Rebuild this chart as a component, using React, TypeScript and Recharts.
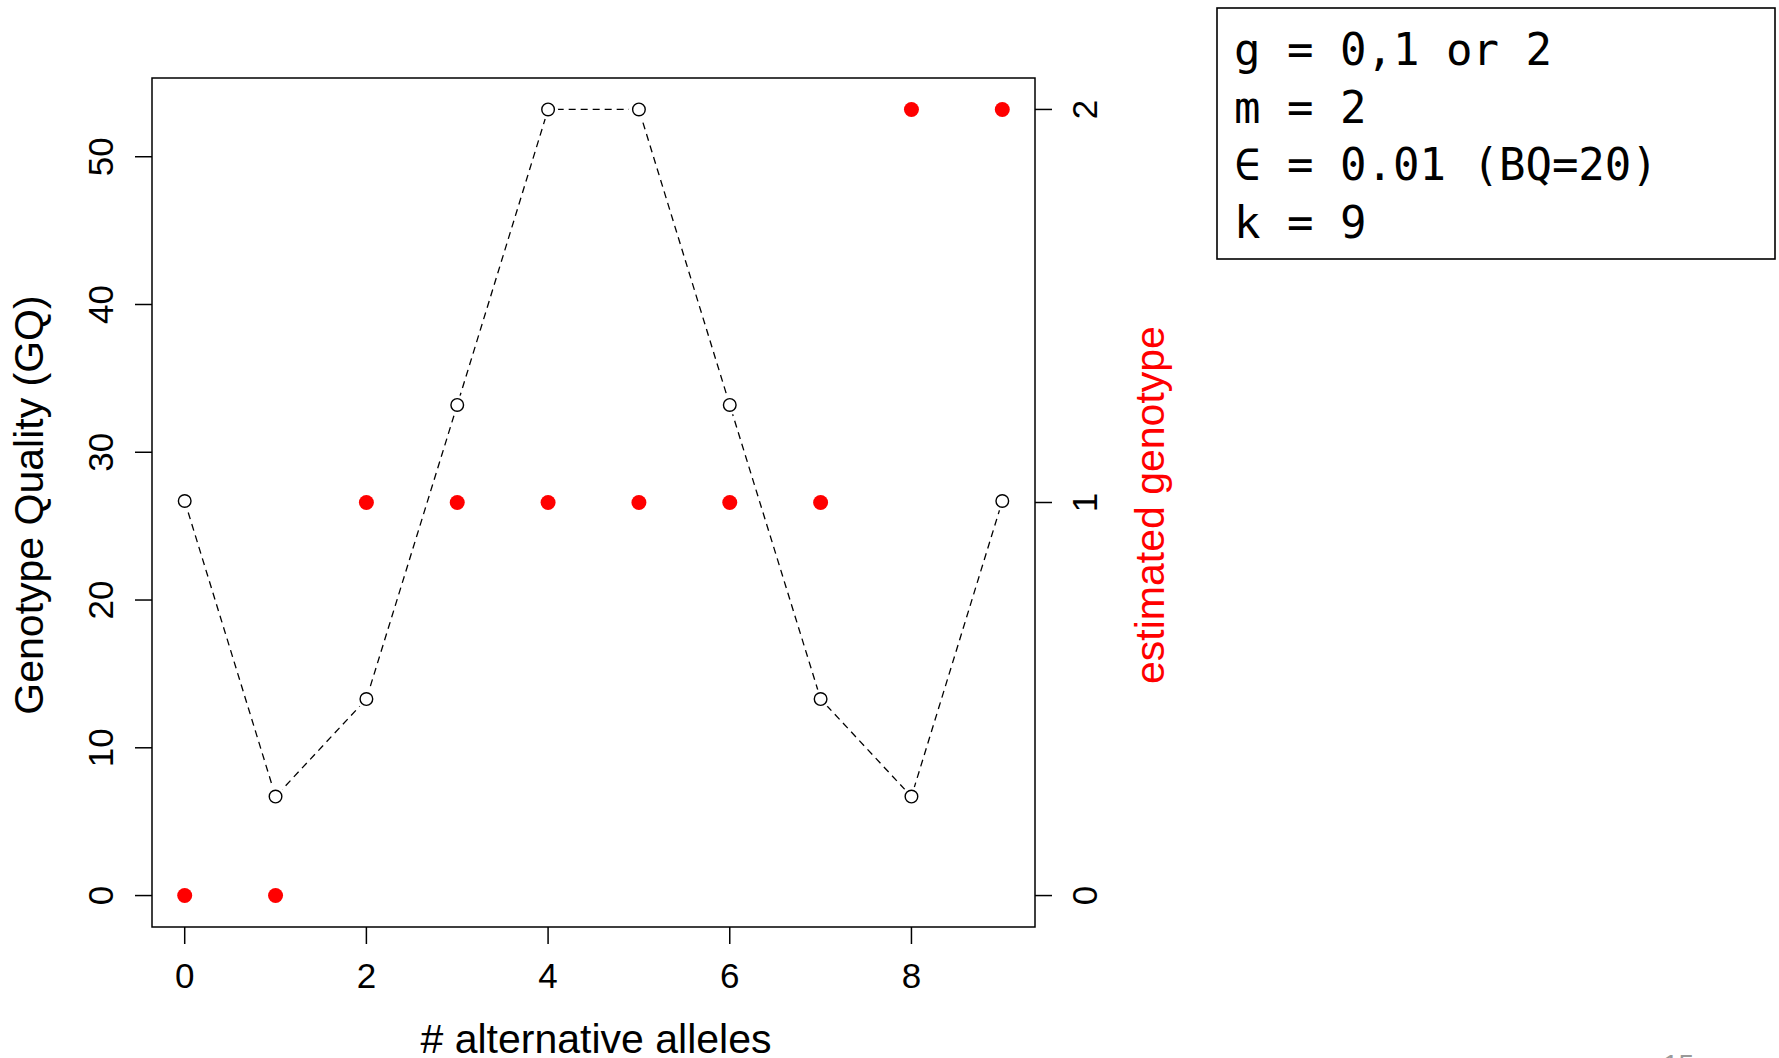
import React from 'react';
import { ComposedChart, Line, XAxis, YAxis, ReferenceArea, Customized } from 'recharts';

// ---- data ----
const alleles = [0, 1, 2, 3, 4, 5, 6, 7, 8, 9];
const gqValues = [26.7, 6.7, 13.3, 33.2, 53.2, 53.2, 33.2, 13.3, 6.7, 26.7];
const genotypeValues = [0, 0, 1, 1, 1, 1, 1, 1, 2, 2];
const xTicks = [0, 2, 4, 6, 8];
const gqTicks = [0, 10, 20, 30, 40, 50];
const gtTicks = [0, 1, 2];
const legendLines = ['g = 0,1 or 2', 'm = 2', '\u2208 = 0.01 (BQ=20)', 'k = 9'];
const xTitle = '# alternative alleles';
const yTitle = 'Genotype Quality (GQ)';
const y2Title = 'estimated genotype';
const pageNumber = '15';

const data = alleles.map((a, i) => ({ x: a, gq: gqValues[i], gt: genotypeValues[i] }));

// R-style 4% axis extension
const xMin = Math.min(...alleles), xMax = Math.max(...alleles);
const xPad = (xMax - xMin) * 0.04;
const gqMax = Math.max(...gqValues);
const gqPad = gqMax * 0.04;
const gtMax = Math.max(...genotypeValues);
const gtPad = gtMax * 0.04;

const SANS = '"Liberation Sans", Arial, Helvetica, sans-serif';
const MONO = '"DejaVu Sans Mono", "Liberation Mono", monospace';

const XTick = (props: any) => {
  const { x, y, payload } = props;
  return (
    <text x={x} y={y + 42} textAnchor="middle" fontSize={35} fontFamily={SANS} fill="#000">
      {payload.value}
    </text>
  );
};

const LeftTick = (props: any) => {
  const { x, y, payload } = props;
  const bx = x - 20;
  return (
    <text x={bx} y={y} transform={`rotate(-90, ${bx}, ${y})`} textAnchor="middle" fontSize={35} fontFamily={SANS} fill="#000">
      {payload.value}
    </text>
  );
};

const RightTick = (props: any) => {
  const { x, y, payload } = props;
  const bx = x + 43;
  return (
    <text x={bx} y={y} transform={`rotate(-90, ${bx}, ${y})`} textAnchor="middle" fontSize={35} fontFamily={SANS} fill="#000">
      {payload.value}
    </text>
  );
};

const OpenDot = (props: any) => {
  const { cx, cy, index } = props;
  return (
    <g key={`od-${index}`}>
      <circle cx={cx} cy={cy} r={10} fill="#fff" stroke="none" />
      <circle cx={cx} cy={cy} r={6.3} fill="#fff" stroke="#000" strokeWidth={1.4} />
    </g>
  );
};

const Decorations = () => (
  <g>
    <text x={596} y={1053} textAnchor="middle" fontSize={41} fontFamily={SANS} fill="#000">{xTitle}</text>
    <text x={43} y={505} transform="rotate(-90, 43, 505)" textAnchor="middle" fontSize={41} fontFamily={SANS} fill="#000">{yTitle}</text>
    <text x={1164} y={505} transform="rotate(-90, 1164, 505)" textAnchor="middle" fontSize={41} fontFamily={SANS} fill="#ff0000">{y2Title}</text>
    <rect x={1217} y={8} width={558} height={251} fill="#fff" stroke="#000" strokeWidth={1.6} />
    {legendLines.map((t, i) => (
      <text key={i} x={1234} y={65 + i * 57.7} fontSize={44} fontFamily={MONO} fill="#000" style={{ whiteSpace: 'pre' }}>
        {t}
      </text>
    ))}
    <text x={1663} y={1074} fontSize={28} fontFamily={SANS} fill="#999">{pageNumber}</text>
  </g>
);

export default function App() {
  return (
    <div style={{ position: 'absolute', left: 0, top: 0, width: 1779, height: 1058, background: '#fff' }}>
      <ComposedChart width={1779} height={1058} data={data} margin={{ top: 78, right: 644, bottom: 0, left: 0 }}>
        <XAxis
          type="number"
          dataKey="x"
          domain={[xMin - xPad, xMax + xPad]}
          ticks={xTicks}
          interval={0}
          allowDataOverflow
          height={131}
          tickSize={17}
          axisLine={false}
          tickLine={{ stroke: '#000', strokeWidth: 1.5 }}
          tick={<XTick />}
        />
        <YAxis
          yAxisId="gq"
          orientation="left"
          type="number"
          domain={[-gqPad, gqMax + gqPad]}
          ticks={gqTicks}
          interval={0}
          allowDataOverflow
          width={152}
          tickSize={17}
          axisLine={false}
          tickLine={{ stroke: '#000', strokeWidth: 1.5 }}
          tick={<LeftTick />}
        />
        <YAxis
          yAxisId="gt"
          orientation="right"
          type="number"
          domain={[-gtPad, gtMax + gtPad]}
          ticks={gtTicks}
          interval={0}
          allowDataOverflow
          width={100}
          tickSize={17}
          axisLine={false}
          tickLine={{ stroke: '#000', strokeWidth: 1.5 }}
          tick={<RightTick />}
        />
        <ReferenceArea
          yAxisId="gq"
          x1={xMin - xPad}
          x2={xMax + xPad}
          y1={-gqPad}
          y2={gqMax + gqPad}
          fill="none"
          fillOpacity={0}
          stroke="#000"
          strokeWidth={1.5}
          ifOverflow="visible"
        />
        <Line
          yAxisId="gq"
          dataKey="gq"
          type="linear"
          stroke="#000"
          strokeWidth={1.3}
          strokeDasharray="7 5"
          dot={OpenDot}
          activeDot={false}
          isAnimationActive={false}
        />
        <Line
          yAxisId="gt"
          dataKey="gt"
          type="linear"
          stroke="none"
          dot={{ r: 7.5, fill: '#ff0000', stroke: 'none' }}
          activeDot={false}
          isAnimationActive={false}
        />
        <Customized component={Decorations} />
      </ComposedChart>
    </div>
  );
}
